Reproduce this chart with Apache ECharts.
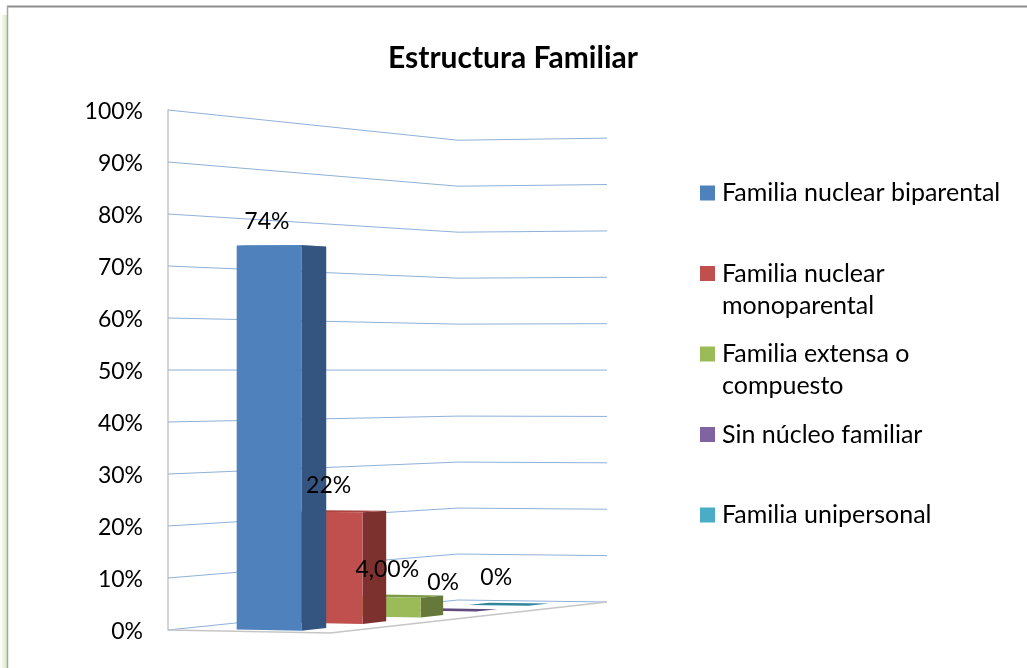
<!DOCTYPE html>
<html><head><meta charset="utf-8">
<style>html,body{margin:0;padding:0;background:#fff}#c{width:1027px;height:668px}</style>
<script src="https://cdn.jsdelivr.net/npm/echarts@6/dist/echarts.min.js"></script>
</head><body><div id="c"></div>
<script>
const chartTitle = 'Estructura Familiar';
const familyNames = ['Familia nuclear biparental','Familia nuclear monoparental','Familia extensa o compuesto','Sin núcleo familiar','Familia unipersonal'];
const legendLines = [['Familia nuclear biparental'],['Familia nuclear','monoparental'],['Familia extensa o','compuesto'],['Sin núcleo familiar'],['Familia unipersonal']];
const familyValues = [0.74,0.22,0.04,0,0];
const valueLabels = ['74%','22%','4,00%','0%','0%'];
const gridTicks = [0,0.1,0.2,0.3,0.4,0.5,0.6,0.7,0.8,0.9,1];

const frontColors = ['#4F81BD','#C0504D','#9BBB59','#8064A2','#4BACC6'];
const sideColors  = ['#34557F','#7C312F','#66793A','#533F6B','#2E7C8F'];
const topColors   = ['#4675AD','#A84542','#7E9A48','#5F4A7C','#31859C'];
const labelLift   = [24,26,28,28,28];

// Perspective view of the 3D floor, in axis units (x: 0..439, y: fraction of the height)
const FLOOR = {A:[0,0], B:[162,-3/520], C:[439,28/520], D:[290,30/520]};
const SHRINK_U = -0.01, SHRINK_W = 0.131;
const BAR_U0 = 0.34, BAR_U1 = 0.74, BAR_W0 = 0.045, BAR_STEP = 0.2, BAR_DEPTH = 0.08;

const H = (function(){
  const [x0,y0]=FLOOR.A,[x1,y1]=FLOOR.B,[x2,y2]=FLOOR.C,[x3,y3]=FLOOR.D;
  const dx1=x1-x2,dx2=x3-x2,sx=x0-x1+x2-x3,dy1=y1-y2,dy2=y3-y2,sy=y0-y1+y2-y3;
  const det=dx1*dy2-dx2*dy1;
  const g=(sx*dy2-dx2*sy)/det,h=(dx1*sy-sx*dy1)/det;
  return {a:x1-x0+g*x1,b:x3-x0+h*x3,c:x0,d:y1-y0+g*y1,e:y3-y0+h*y3,f:y0,g,h};
})();
function project(u,w,v){
  const den=H.g*u+H.h*w+1;
  return [(H.a*u+H.b*w+H.c)/den,(H.d*u+H.e*w+H.f)/den+v/(1+SHRINK_U*u+SHRINK_W*w)];
}
function poly(api,corners,fill){
  return {type:'polygon',shape:{points:corners.map(p=>api.coord(project(p[0],p[1],p[2])))},style:{fill:fill},silent:true};
}
function wallLine(params,api){
  const v=api.value(1);
  return {type:'polyline',silent:true,
    shape:{points:[[0,0],[0,1],[1,1]].map(p=>api.coord(project(p[0],p[1],v)))},
    style:{fill:'none',stroke:'#8FB1DB',lineWidth:1}};
}
function floorEdge(params,api){
  return {type:'polyline',silent:true,
    shape:{points:[[0,0],[1,0],[1,1]].map(p=>api.coord(project(p[0],p[1],0)))},
    style:{fill:'none',stroke:'#C6C6C6',lineWidth:1.5}};
}
function barRender(i){
  return function(params,api){
    const v=api.value(1),w0=BAR_W0+BAR_STEP*i,w1=w0+BAR_DEPTH,u0=BAR_U0,u1=BAR_U1;
    const kids=[];
    kids.push(poly(api,[[u0,w0,v],[u1,w0,v],[u1,w1,v],[u0,w1,v]],topColors[i]));
    if(v>0){
      kids.push(poly(api,[[u1,w0,0],[u1,w1,0],[u1,w1,v],[u1,w0,v]],sideColors[i]));
      kids.push(poly(api,[[u0,w0,0],[u1,w0,0],[u1,w0,v],[u0,w0,v]],frontColors[i]));
    }
    return {type:'group',children:kids};
  };
}
function labelRender(params,api){
  const i=params.dataIndex,v=api.value(1),w0=BAR_W0+BAR_STEP*i;
  const p=api.coord(project((BAR_U0+BAR_U1)/2,w0,v));
  return {type:'text',silent:true,x:p[0]-2,y:p[1]-labelLift[i],
    style:{text:valueLabels[i],align:'center',verticalAlign:'middle',fontFamily:'Lato',fontSize:23,fill:'#000'}};
}

const series=[
  {type:'custom',silent:true,z:1,data:gridTicks.map(t=>[0,t]),renderItem:wallLine,animation:false},
  {type:'custom',silent:true,z:1,data:[[0,0]],renderItem:floorEdge,animation:false}
];
for(let i=familyNames.length-1;i>=0;i--){
  series.push({type:'custom',name:familyNames[i],silent:true,z:2,animation:false,
    itemStyle:{color:frontColors[i]},data:[[0,familyValues[i]]],renderItem:barRender(i)});
}
series.push({type:'custom',silent:true,z:3,animation:false,data:familyValues.map(v=>[0,v]),renderItem:labelRender});

const legends=familyNames.map((n,i)=>({
  data:[n],show:true,orient:'vertical',left:700,top:193-48+80.5*i,padding:0,
  itemWidth:15,itemHeight:15,itemGap:7,selectedMode:false,icon:'rect',
  formatter:()=>[' '].concat(legendLines[i]).concat(legendLines[i].length===1?[' ']:[]).join('\n'),
  textStyle:{fontFamily:'Lato',fontSize:25,lineHeight:32,color:'#000',padding:[0,0,0,2]}
}));

const chart=echarts.init(document.getElementById('c'),null,{renderer:'canvas'});
chart.setOption({
  animation:false,
  backgroundColor:'#fff',
  title:{text:chartTitle,left:388,top:43,padding:0,textStyle:{fontFamily:'Lato',fontWeight:'bold',fontSize:30,color:'#000'}},
  legend:legends,
  grid:{left:168,top:110,width:439,height:520,containLabel:false},
  xAxis:{type:'value',min:0,max:439,show:false},
  yAxis:{type:'value',min:0,max:1,interval:0.1,
    axisLine:{show:true,lineStyle:{color:'#C6C6C6',width:1.5}},axisTick:{show:false},splitLine:{show:false},
    axisLabel:{margin:25,color:'#000',fontFamily:'Lato',fontSize:23,
      formatter:v=>'{t|'+Math.round(v*100)+'%}',
      rich:{t:{fontFamily:'Lato',fontSize:23,color:'#000',padding:[4,0,0,0]}}}},
  series:series,
  graphic:[
    {type:'rect',silent:true,z:0,shape:{x:0,y:15,width:7,height:653},
      style:{fill:new echarts.graphic.LinearGradient(0,0,1,0,[{offset:0,color:'#ffffff'},{offset:1,color:'#D5E8BE'}])}},
    {type:'line',silent:true,shape:{x1:7,y1:6.5,x2:1027,y2:6.5},style:{stroke:'#8C8C8C',lineWidth:2}},
    {type:'line',silent:true,shape:{x1:7.5,y1:6,x2:7.5,y2:668},style:{stroke:'#A6A6A6',lineWidth:1.5}}
  ]
});
</script></body></html>
